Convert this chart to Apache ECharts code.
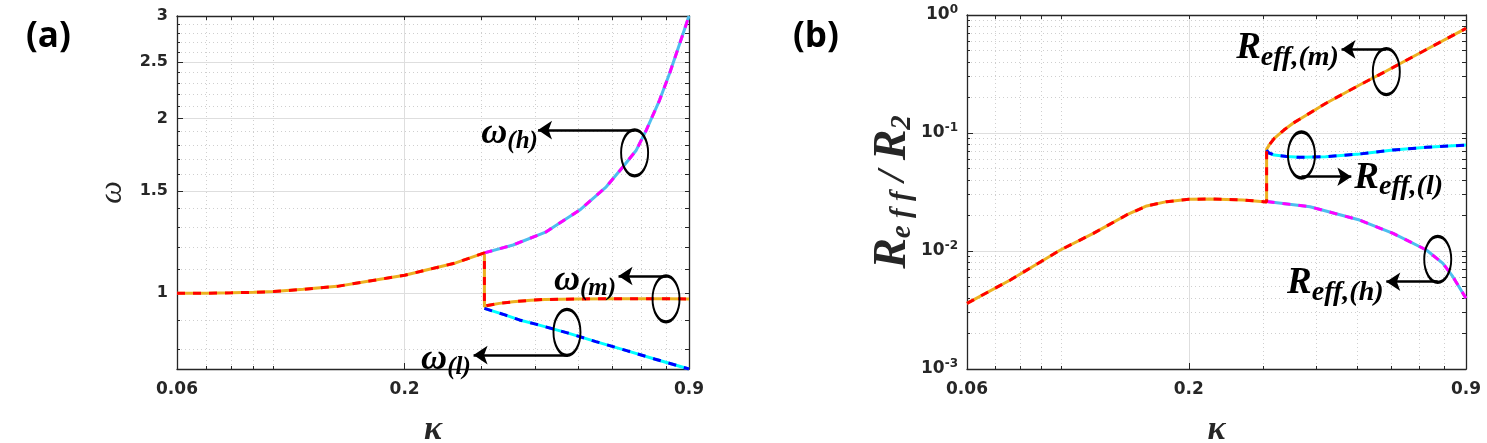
<!DOCTYPE html>
<html>
<head>
<meta charset="utf-8">
<title>omega and Reff vs kappa</title>
<script src="https://cdn.jsdelivr.net/npm/echarts@6/dist/echarts.min.js"></script>
<style>
  html, body { margin: 0; padding: 0; background: #fff; }
  #chart { width: 1487px; height: 443px; }
</style>
</head>
<body>
<div id="chart"></div>
<script>
// ticks
const kappaTicks = [0.06, 0.2, 0.9];
const kappaMinor = [0.07, 0.08, 0.09, 0.1, 0.3, 0.4, 0.5, 0.6, 0.7, 0.8];
const omegaTicks = [1, 1.5, 2, 2.5, 3];
const omegaMinor = [0.8, 0.9, 1.1, 1.2, 1.3, 1.4, 1.6, 1.7, 1.8, 1.9, 2.1, 2.2, 2.3, 2.4, 2.6, 2.7, 2.8, 2.9];
const reffTicks = [0.001, 0.01, 0.1, 1];
const reffMinor = [0.002, 0.003, 0.004, 0.005, 0.006, 0.007, 0.008, 0.009,
  0.02, 0.03, 0.04, 0.05, 0.06, 0.07, 0.08, 0.09,
  0.2, 0.3, 0.4, 0.5, 0.6, 0.7, 0.8, 0.9];

// (a) omega, branch before the jump
const kPreA = [0.06, 0.07, 0.08, 0.09, 0.1, 0.117, 0.14, 0.166, 0.2, 0.228, 0.262, 0.305];
const wPreA = [1.0, 1.0, 1.002, 1.004, 1.007, 1.016, 1.028, 1.05, 1.074, 1.1, 1.128, 1.174];
// (a) after the jump
const kMidA = [0.305, 0.31, 0.33, 0.355, 0.39, 0.42, 0.5, 0.6, 0.7, 0.8, 0.9];
const wMidA = [0.948, 0.953, 0.961, 0.967, 0.973, 0.976, 0.978, 0.979, 0.979, 0.979, 0.978];
const kHighA = [0.305, 0.355, 0.423, 0.505, 0.581, 0.635, 0.681, 0.718, 0.77, 0.812, 0.857, 0.9];
const wHighA = [1.174, 1.211, 1.276, 1.391, 1.525, 1.651, 1.763, 1.909, 2.148, 2.388, 2.69, 3.0];
const kLowA = [0.305, 0.34, 0.367, 0.4, 0.473, 0.55, 0.65, 0.75, 0.9];
const wLowA = [0.942, 0.918, 0.9, 0.885, 0.855, 0.826, 0.796, 0.771, 0.741];

// (b) Reff/R2
const kPreB = [0.06, 0.0759, 0.0996, 0.1191, 0.1426, 0.1591, 0.1773, 0.2, 0.2243, 0.268, 0.305];
const rPreB = [0.0036, 0.00568, 0.0102, 0.0141, 0.0202, 0.0241, 0.0262, 0.0274, 0.0276, 0.0271, 0.026];
const kMidB = [0.305, 0.31, 0.318, 0.335, 0.352, 0.42, 0.505, 0.584, 0.726, 0.9];
const rMidB = [0.073, 0.08, 0.09, 0.106, 0.121, 0.178, 0.255, 0.335, 0.51, 0.771];
const kLowB = [0.305, 0.308, 0.318, 0.34, 0.365, 0.42, 0.505, 0.606, 0.726, 0.9];
const rLowB = [0.0718, 0.068, 0.065, 0.0632, 0.0622, 0.063, 0.0664, 0.0718, 0.0756, 0.079];
const kHighB = [0.305, 0.386, 0.505, 0.606, 0.726, 0.794, 0.838, 0.9];
const rHighB = [0.0263, 0.0237, 0.0183, 0.0141, 0.0102, 0.00786, 0.00606, 0.00397];

const axisColor = '#262626';
const serif = '"Liberation Serif", "DejaVu Serif", serif';

function pairs(xs, ys) {
  return xs.map((x, i) => [x, ys[i]]);
}

function fmtNum(v) {
  return String(+(+v).toPrecision(4));
}
function fmtPow(v) {
  const e = Math.round(Math.log10(v));
  return '{b|10}{s|' + e + '}';
}

// main axis: line, major ticks, labels, solid grid
function mainAxis(dim, gi, min, max, ticks, fmt, extra) {
  return Object.assign({
    type: 'log', gridIndex: gi, min: min, max: max,
    position: dim === 'x' ? 'bottom' : 'left',
    axisLine: { show: true, lineStyle: { color: axisColor, width: 1.3 } },
    axisTick: { show: true, inside: true, length: 6, customValues: ticks, lineStyle: { color: axisColor } },
    axisLabel: {
      show: true, customValues: ticks, formatter: fmt, color: axisColor,
      fontFamily: '"DejaVu Sans", sans-serif', fontWeight: 'bold',
      fontSize: dim === 'x' ? 17 : 16, margin: dim === 'x' ? 12 : 9,
      rich: {
        b: { fontFamily: '"DejaVu Sans", sans-serif', fontWeight: 'bold', fontSize: 17, color: axisColor },
        s: { fontFamily: '"DejaVu Sans", sans-serif', fontWeight: 'bold', fontSize: 12, color: axisColor, padding: [0, 0, 10, 0] }
      }
    },
    splitLine: { show: true, lineStyle: { color: '#dedede', width: 1 } }
  }, extra);
}
// minor ticks and dotted grid, same side as main axis
function minorAxis(dim, gi, min, max, ticks) {
  return {
    type: 'log', gridIndex: gi, min: min, max: max,
    position: dim === 'x' ? 'bottom' : 'left',
    axisLine: { show: false },
    axisTick: { show: true, inside: true, length: 3, customValues: ticks, lineStyle: { color: axisColor } },
    axisLabel: { show: false },
    splitLine: { show: true, lineStyle: { color: '#cfcfcf', width: 1, type: [1, 3] } }
  };
}
// opposite box side with all ticks
function boxAxis(dim, gi, min, max, ticks) {
  return {
    type: 'log', gridIndex: gi, min: min, max: max,
    position: dim === 'x' ? 'top' : 'right',
    axisLine: { show: true, lineStyle: { color: axisColor, width: 1.3 } },
    axisTick: { show: true, inside: true, length: 4, customValues: ticks, lineStyle: { color: axisColor } },
    axisLabel: { show: false },
    splitLine: { show: false }
  };
}

// each curve = solid line + dashed line of another colour on top
function branch(name, data, xi, yi, base, dash) {
  const common = { type: 'line', xAxisIndex: xi, yAxisIndex: yi, data: data, symbol: 'none' };
  return [
    Object.assign({ name: name, lineStyle: { color: base, width: 3 }, z: 3 }, common),
    Object.assign({ name: name + '-dash', lineStyle: { color: dash, width: 3, type: [8, 8] }, z: 4 }, common)
  ];
}

function ellipse(x, y) {
  return { coord: [x, y], symbol: 'circle', symbolSize: [27, 46],
    itemStyle: { color: 'rgba(0,0,0,0)', borderColor: '#000', borderWidth: 2.5 },
    label: { show: false } };
}
function tag(x, y, text, side) {
  return { coord: [x, y], symbol: 'circle', symbolSize: 1,
    itemStyle: { color: 'rgba(0,0,0,0)' },
    label: { show: true, position: side, distance: 1, formatter: text } };
}
const tagRich = {
  w: { fontFamily: serif, fontStyle: 'italic', fontWeight: 'bold', fontSize: 36, color: '#000' },
  ws: { fontFamily: serif, fontStyle: 'italic', fontWeight: 'bold', fontSize: 25, color: '#000', padding: [16, 0, 0, 0] },
  R: { fontFamily: serif, fontStyle: 'italic', fontWeight: 'bold', fontSize: 37, color: '#000' },
  rs: { fontFamily: serif, fontStyle: 'italic', fontWeight: 'bold', fontSize: 28, color: '#000', padding: [18, 0, 0, 0] }
};
function arrows(list) {
  return {
    silent: true, symbol: ['none', 'arrow'], symbolSize: 14,
    lineStyle: { color: '#000', width: 2.5, type: 'solid' },
    label: { show: false },
    data: list.map(a => [{ coord: [a[0], a[1]] }, { coord: [a[2], a[1]] }])
  };
}

const orange = '#EDB120', red = '#FF0000';
// the orange/red curve holds the branch before the jump, the jump and the middle branch
const sA = [
  ...branch('high', pairs(kHighA, wHighA), 0, 0, '#4DBEEE', '#FF00FF'),
  ...branch('low', pairs(kLowA, wLowA), 0, 0, '#00FFFF', '#0000FF'),
  ...branch('mid', pairs(kPreA, wPreA).concat(pairs(kMidA, wMidA)), 0, 0, orange, red)
];
sA[4].markPoint = {
  silent: true,
  label: { rich: tagRich },
  data: [
    ellipse(0.675, 1.745), ellipse(0.797, 0.978), ellipse(0.472, 0.857),
    tag(0.408, 1.885, '{w|ω}{ws|(h)}', 'left'),
    tag(0.617, 1.05, '{w|ω}{ws|(m)}', 'left'),
    tag(0.286, 0.768, '{w|ω}{ws|(l)}', 'left')
  ]
};
sA[4].markLine = arrows([[0.675, 1.909, 0.405], [0.8, 1.071, 0.62], [0.474, 0.783, 0.288]]);

const sB = [
  ...branch('highB', pairs(kHighB, rHighB), 3, 3, '#4DBEEE', '#FF00FF'),
  ...branch('lowB', pairs(kLowB, rLowB), 3, 3, '#00FFFF', '#0000FF'),
  ...branch('midB', pairs(kPreB, rPreB).concat(pairs(kMidB, rMidB)), 3, 3, orange, red)
];
sB[4].markPoint = {
  silent: true,
  label: { rich: tagRich },
  data: [
    ellipse(0.584, 0.331), ellipse(0.3685, 0.0651), ellipse(0.772, 0.0085),
    tag(0.455, 0.52, '{R|R}{rs|eff,(m)}', 'left'),
    tag(0.487, 0.0415, '{R|R}{rs|eff,(l)}', 'right'),
    tag(0.58, 0.0053, '{R|R}{rs|eff,(h)}', 'left')
  ]
};
sB[4].markLine = arrows([[0.584, 0.512, 0.458], [0.3685, 0.0426, 0.483], [0.772, 0.00549, 0.584]]);

const chart = echarts.init(document.getElementById('chart'), null, { renderer: 'canvas' });
chart.setOption({
  animation: false,
  backgroundColor: '#fff',
  grid: [
    { left: 177, top: 16, width: 512, height: 353, containLabel: false, outerBoundsMode: 'none' },
    { left: 967, top: 15, width: 499, height: 354, containLabel: false, outerBoundsMode: 'none' }
  ],
  graphic: [
    { type: 'text', left: 26, top: 20, style: { text: '(a)', font: 'bold 35px "Open Sans", sans-serif', fill: '#000' } },
    { type: 'text', left: 793, top: 20, style: { text: '(b)', font: 'bold 35px "Open Sans", sans-serif', fill: '#000' } }
  ],
  xAxis: [
    mainAxis('x', 0, 0.06, 0.9, kappaTicks, fmtNum, {
      name: 'κ', nameLocation: 'middle', nameGap: 44,
      nameTextStyle: { fontFamily: serif, fontStyle: 'italic', fontWeight: 'bold', fontSize: 34, color: axisColor }
    }),
    minorAxis('x', 0, 0.06, 0.9, kappaMinor),
    boxAxis('x', 0, 0.06, 0.9, kappaTicks.concat(kappaMinor)),
    mainAxis('x', 1, 0.06, 0.9, kappaTicks, fmtNum, {
      name: 'κ', nameLocation: 'middle', nameGap: 44,
      nameTextStyle: { fontFamily: serif, fontStyle: 'italic', fontWeight: 'bold', fontSize: 34, color: axisColor }
    }),
    minorAxis('x', 1, 0.06, 0.9, kappaMinor),
    boxAxis('x', 1, 0.06, 0.9, kappaTicks.concat(kappaMinor))
  ],
  yAxis: [
    mainAxis('y', 0, 0.741, 3, omegaTicks, fmtNum, {
      name: 'ω', nameLocation: 'middle', nameRotate: 90, nameGap: 48,
      nameTextStyle: { fontFamily: serif, fontStyle: 'italic', fontSize: 32, color: axisColor }
    }),
    minorAxis('y', 0, 0.741, 3, omegaMinor),
    boxAxis('y', 0, 0.741, 3, omegaTicks.concat(omegaMinor)),
    mainAxis('y', 1, 0.001, 1, reffTicks, fmtPow, {
      name: '{R|R}{s|e f f}{n| / }{R|R}{s|2}', nameLocation: 'middle', nameRotate: 90, nameGap: 50,
      nameTextStyle: {
        rich: {
          R: { fontFamily: serif, fontStyle: 'italic', fontWeight: 'bold', fontSize: 46, color: axisColor },
          s: { fontFamily: serif, fontStyle: 'italic', fontWeight: 'bold', fontSize: 29, color: axisColor, padding: [18, 0, 0, 0] },
          n: { fontFamily: serif, fontStyle: 'italic', fontWeight: 'bold', fontSize: 40, color: axisColor }
        }
      }
    }),
    minorAxis('y', 1, 0.001, 1, reffMinor),
    boxAxis('y', 1, 0.001, 1, reffTicks.concat(reffMinor))
  ],
  series: sA.concat(sB)
});
window.addEventListener('resize', function () {
  chart.resize();
});
</script>
</body>
</html>
